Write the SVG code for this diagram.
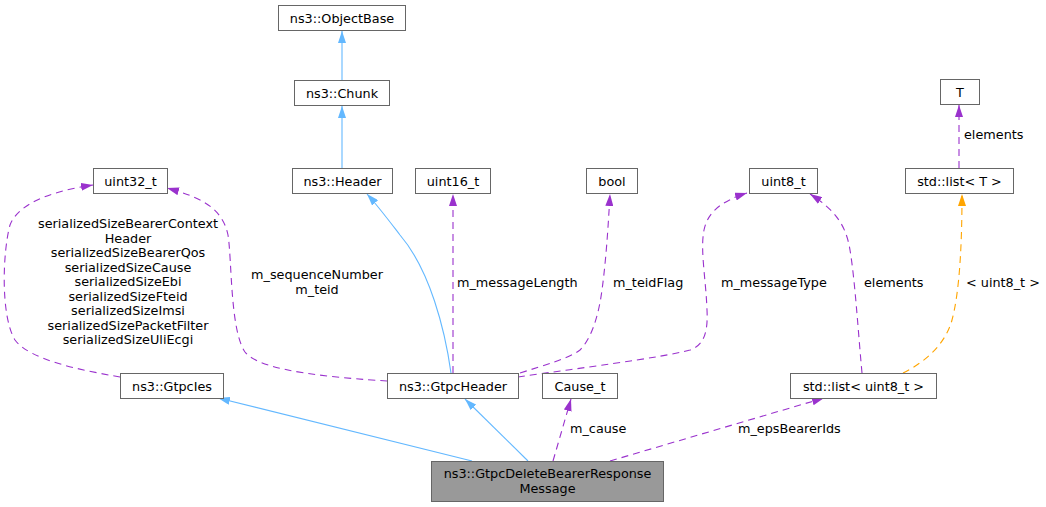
<svg xmlns="http://www.w3.org/2000/svg" width="1046" height="507" viewBox="0 0 1046 507">
<style>
.n rect{fill:#fff;stroke:#666;stroke-width:1}
.n.main rect{fill:#999}
text{font-family:"DejaVu Sans","Liberation Sans",sans-serif;font-size:12.8px;fill:#000}
.c{text-anchor:middle}
.e{fill:none;stroke-width:1.1}
.inh{stroke:#63b8ff}
.use{stroke:#9a32cd;stroke-dasharray:7,5}
.tpl{stroke:#ffa500;stroke-dasharray:7,5}
</style>
<defs>
<marker id="ab" viewBox="0 0 12 8" refX="12" refY="4" markerWidth="12" markerHeight="8" markerUnits="userSpaceOnUse" orient="auto"><path d="M0,0L12,4L0,8z" fill="#63b8ff"/></marker>
<marker id="ap" viewBox="0 0 12 8" refX="12" refY="4" markerWidth="12" markerHeight="8" markerUnits="userSpaceOnUse" orient="auto"><path d="M0,0L12,4L0,8z" fill="#9a32cd"/></marker>
<marker id="ao" viewBox="0 0 12 8" refX="12" refY="4" markerWidth="12" markerHeight="8" markerUnits="userSpaceOnUse" orient="auto"><path d="M0,0L12,4L0,8z" fill="#ffa500"/></marker>
</defs>
<g id="connectors">
<path class="e inh" d="M342,80L342,31" marker-end="url(#ab)"/>
<path class="e inh" d="M342,168L342,106" marker-end="url(#ab)"/>
<path class="e inh" d="M451,373C445,330 430,270 400,235C390,222 378,206 367,194" marker-end="url(#ab)"/>
<path class="e inh" d="M472,461L218,398" marker-end="url(#ab)"/>
<path class="e inh" d="M528,461L465,399" marker-end="url(#ab)"/>
<path class="e use" d="M553,461L571,399" marker-end="url(#ap)"/>
<path class="e use" d="M610,461L824,398" marker-end="url(#ap)"/>
<path class="e use" d="M120,377C80,370 30,360 15,340C0,315 3,250 10,225C20,200 60,190 93,185" marker-end="url(#ap)"/>
<path class="e use" d="M387,381C340,378 260,372 245,352C230,330 232,260 228,235C222,205 195,196 167,188" marker-end="url(#ap)"/>
<path class="e use" d="M453,373L453,194" marker-end="url(#ap)"/>
<path class="e use" d="M520,373C545,365 570,358 580,350C590,340 598,320 602,290C606,260 608,230 610,194" marker-end="url(#ap)"/>
<path class="e use" d="M518,377C580,368 660,358 690,350C705,345 708,330 707,310C706,280 700,250 704,230C708,210 725,200 747,193" marker-end="url(#ap)"/>
<path class="e use" d="M862,373C858,330 855,280 850,250C846,225 835,210 810,194" marker-end="url(#ap)"/>
<path class="e tpl" d="M903,373C925,362 945,345 952,320C960,290 962,240 962,194" marker-end="url(#ao)"/>
<path class="e use" d="M959,168L959,105" marker-end="url(#ap)"/>
<text class="c" x="128" y="228">serializedSizeBearerContext</text>
<text class="c" x="128" y="242.5">Header</text>
<text class="c" x="128" y="257">serializedSizeBearerQos</text>
<text class="c" x="128" y="271.5">serializedSizeCause</text>
<text class="c" x="128" y="286">serializedSizeEbi</text>
<text class="c" x="128" y="300.5">serializedSizeFteid</text>
<text class="c" x="128" y="315">serializedSizeImsi</text>
<text class="c" x="128" y="329.5">serializedSizePacketFilter</text>
<text class="c" x="128" y="344">serializedSizeUliEcgi</text>
<text class="c" x="317" y="279">m_sequenceNumber</text>
<text class="c" x="317" y="293.5">m_teid</text>
<text x="457" y="287">m_messageLength</text>
<text x="613" y="287">m_teidFlag</text>
<text x="721" y="287">m_messageType</text>
<text x="864" y="287">elements</text>
<text x="966" y="287">&lt; uint8_t &gt;</text>
<text x="964" y="139">elements</text>
<text x="570" y="433">m_cause</text>
<text x="738" y="433">m_epsBearerIds</text>
</g>
<g id="ObjectBase" class="n"><rect x="278.5" y="5.5" width="127" height="25"/><text class="c" x="342" y="22.5">ns3::ObjectBase</text></g>
<g id="Chunk" class="n"><rect x="294.5" y="80.5" width="95" height="25"/><text class="c" x="342" y="97.5">ns3::Chunk</text></g>
<g id="Header" class="n"><rect x="292.5" y="168.5" width="100" height="25"/><text class="c" x="342.5" y="185.5">ns3::Header</text></g>
<g id="uint16_t" class="n"><rect x="415.5" y="168.5" width="75" height="25"/><text class="c" x="453" y="185.5">uint16_t</text></g>
<g id="bool" class="n"><rect x="586.5" y="168.5" width="51" height="25"/><text class="c" x="612" y="185.5">bool</text></g>
<g id="uint8_t" class="n"><rect x="749.5" y="168.5" width="68" height="25"/><text class="c" x="783.5" y="185.5">uint8_t</text></g>
<g id="T" class="n"><rect x="940.5" y="79.5" width="39" height="25"/><text class="c" x="960" y="96.5">T</text></g>
<g id="std_list_T" class="n"><rect x="905.5" y="168.5" width="108" height="25"/><text class="c" x="959.5" y="185.5">std::list&lt; T &gt;</text></g>
<g id="uint32_t" class="n"><rect x="93.5" y="168.5" width="74" height="25"/><text class="c" x="130.5" y="185.5">uint32_t</text></g>
<g id="GtpcIes" class="n"><rect x="120.5" y="373.5" width="103" height="25"/><text class="c" x="172" y="390.5">ns3::GtpcIes</text></g>
<g id="GtpcHeader" class="n"><rect x="387.5" y="373.5" width="131" height="25"/><text class="c" x="453" y="390.5">ns3::GtpcHeader</text></g>
<g id="Cause_t" class="n"><rect x="542.5" y="373.5" width="75" height="25"/><text class="c" x="580" y="390.5">Cause_t</text></g>
<g id="std_list_uint8_t" class="n"><rect x="790.5" y="373.5" width="146" height="25"/><text class="c" x="863.5" y="390.5">std::list&lt; uint8_t &gt;</text></g>
<g id="GtpcDeleteBearerResponseMessage" class="n main"><rect x="431.5" y="461.5" width="232" height="40"/><text class="c" x="547.5" y="478">ns3::GtpcDeleteBearerResponse</text><text class="c" x="547.5" y="492.5">Message</text></g>
</svg>
